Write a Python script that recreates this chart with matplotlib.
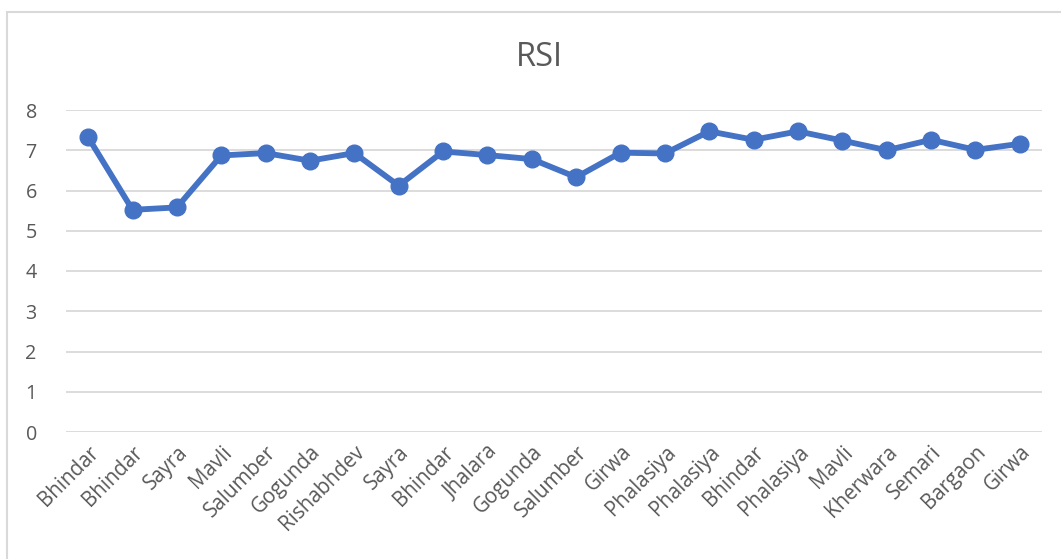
import matplotlib
matplotlib.use("Agg")
import matplotlib.pyplot as plt
from matplotlib.patches import Rectangle

# RSI values per location
locations = [
    "Bhindar", "Bhindar", "Sayra", "Mavli", "Salumber", "Gogunda",
    "Rishabhdev", "Sayra", "Bhindar", "Jhalara", "Gogunda", "Salumber",
    "Girwa", "Phalasiya", "Phalasiya", "Bhindar", "Phalasiya", "Mavli",
    "Kherwara", "Semari", "Bargaon", "Girwa",
]
rsi = [
    7.32, 5.52, 5.58, 6.87, 6.93, 6.74,
    6.93, 6.12, 6.97, 6.88, 6.78, 6.33,
    6.94, 6.92, 7.47, 7.26, 7.47, 7.24,
    7.00, 7.26, 7.01, 7.16,
]
y_ticks = [0, 1, 2, 3, 4, 5, 6, 7, 8]

plt.rcParams["font.family"] = ["Open Sans", "DejaVu Sans"]

W, H = 1061, 559
fig = plt.figure(figsize=(W / 100, H / 100), dpi=100)

# chart border (only top and left edges visible in the crop)
fig.patches.append(Rectangle(
    (7 / W, -0.1), 1.2, 1 - 12 / H + 0.1,
    transform=fig.transFigure, fill=False,
    edgecolor="#d9d9d9", linewidth=1.5,
))

ax = fig.add_axes([66 / W, 1 - 432 / H, (1042 - 66) / W, (432 - 110) / H])

x = list(range(len(locations)))
ax.plot(
    x, rsi,
    color="#4472c4",
    linewidth=4.2,
    marker="o",
    markersize=12,
    solid_capstyle="round",
    zorder=3,
)

ax.set_xlim(-0.5, len(locations) - 0.5)
ax.set_ylim(0, 8)
ax.set_yticks(y_ticks)
ax.set_xticks(x)
ax.set_xticklabels(locations, rotation=45, ha="right", va="top",
                   rotation_mode="anchor")

ax.grid(axis="y", color="#d9d9d9", linewidth=1.3)
ax.set_axisbelow(True)
for s in ax.spines.values():
    s.set_visible(False)
ax.tick_params(axis="both", length=0, colors="#595959")
ax.tick_params(axis="y", labelsize=14.2, pad=21)
ax.tick_params(axis="x", labelsize=14.8, pad=7)

fig.text(539 / W, 1 - 57 / H, "RSI", ha="center", va="center",
         fontsize=23.5, color="#595959")

fig.savefig("out.png", dpi=100)
